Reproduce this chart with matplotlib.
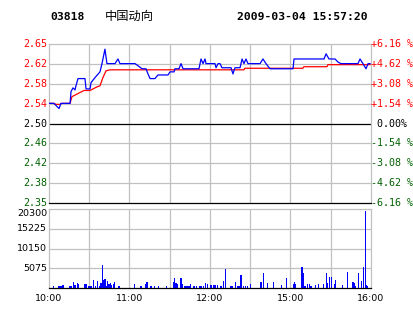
import matplotlib.pyplot as plt
from matplotlib.transforms import blended_transform_factory

# header
code = '03818'
name = '中国动向'
stamp = '2009-03-04 15:57:20'

# price scale: previous close and percentage levels
prev_close = 2.50
pct_levels = [-6.16, -4.62, -3.08, -1.54, 0.0, 1.54, 3.08, 4.62, 6.16]
price_labels = ['2.35', '2.38', '2.42', '2.46', '2.50', '2.54', '2.58', '2.62', '2.65']
pct_labels = ['-6.16 %', '-4.62 %', '-3.08 %', '-1.54 %', ' 0.00%',
              '+1.54 %', '+3.08 %', '+4.62 %', '+6.16 %']

# time axis in trading minutes from 10:00 (lunch break removed)
time_ticks = [0, 60, 120, 180, 240]
time_labels = ['10:00', '11:00', '12:00', '15:00', '16:00']

vol_ticks = [5075, 10150, 15225, 20300]
vol_max = 20300

# last price
price_t = [0, 3.7, 5.2, 7.5, 8.9, 15.7, 16.4, 17.9, 19.4, 20.1, 21.6, 26.8, 27.6, 30.6,
           31.3, 34.3, 38, 39.5, 41.7, 43.2, 49.2, 51.4, 52.9, 64.1, 66.3, 69.3, 72.3,
           73.8, 75.3, 79, 81.2, 88.7, 90.2, 93.2, 93.9, 96.9, 98.4, 99.9, 111.8, 113.3,
           114.8, 116.3, 117, 123.7, 124.5, 126, 127.5, 128.9, 135.7, 137.1, 138.6, 142.4,
           143.9, 145.3, 146.8, 148.3, 157.3, 159.5, 161.7, 164.7, 181.9, 182.6, 205,
           206.5, 208.7, 213.2, 215.4, 217.6, 230.3, 231.8, 234, 236.3, 237.8, 239.3]
price = [2.539, 2.539, 2.535, 2.529, 2.539, 2.539, 2.562, 2.569, 2.565, 2.573, 2.587,
         2.587, 2.567, 2.567, 2.579, 2.589, 2.600, 2.616, 2.644, 2.616, 2.616, 2.625,
         2.616, 2.616, 2.612, 2.606, 2.606, 2.596, 2.587, 2.587, 2.594, 2.594, 2.600,
         2.600, 2.606, 2.606, 2.616, 2.606, 2.606, 2.625, 2.616, 2.625, 2.616, 2.616,
         2.608, 2.616, 2.616, 2.608, 2.608, 2.596, 2.608, 2.608, 2.625, 2.616, 2.625,
         2.616, 2.616, 2.625, 2.616, 2.606, 2.606, 2.625, 2.625, 2.635, 2.625, 2.625,
         2.619, 2.616, 2.616, 2.625, 2.616, 2.606, 2.616, 2.616]

# average price
avg_t = [0, 3.7, 5.2, 8.2, 9.7, 15.7, 17.1, 18.6, 20.1, 23.1, 26.1, 30.6, 32.8, 35.8,
         38, 40.2, 42.5, 45.5, 145.3, 146, 189.2, 190, 207.2, 207.9, 239.3]
avg = [2.539, 2.539, 2.537, 2.537, 2.539, 2.539, 2.552, 2.554, 2.556, 2.560, 2.564,
       2.564, 2.567, 2.571, 2.573, 2.589, 2.602, 2.604, 2.604, 2.607, 2.607, 2.610,
       2.610, 2.614, 2.614]

# volume
vol_t = [0, 3.2, 7.5, 8.9, 10.4, 15.7, 16.9, 18.1, 19.4, 21.1, 21.8, 26.8, 28.1, 29.8,
         31.3, 33, 34.8, 36, 38, 38.8, 39.7, 40.5, 41.7, 43, 43.8, 44.7, 45.7, 46.7,
         47.9, 49, 51.6, 52.4, 63.6, 68.6, 72.3, 73, 76, 78.5, 81.5, 87.7, 92.6, 93.4,
         94.7, 95.9, 98.4, 99.3, 101.4, 102.9, 104.3, 105.6, 108.1, 110.1, 112, 113.3,
         115, 116.8, 118, 120.7, 122.5, 123.7, 125.7, 128.2, 129.9, 131.4, 135.6, 136.9,
         138.8, 140.6, 141.6, 143.1, 144.8, 146.6, 147.8, 150, 158, 159.7, 162.7, 167.2,
         173.1, 176.9, 182.1, 182.8, 183.6, 188.6, 189.3, 190.8, 192.5, 194, 195.3,
         198.5, 200.7, 204.4, 206.7, 207.4, 208.9, 210.4, 212.6, 213.7, 218.6, 222.3,
         226.6, 227.5, 228.3, 230.5, 232.8, 234.2, 235.7, 236.5, 237.2]
vol = [590, 590, 590, 590, 850, 590, 590, 1450, 680, 1190, 930, 930, 930, 590,
       590, 1960, 590, 1700, 590, 1280, 5800, 2140, 2400, 590, 1700, 1020, 1190, 680,
       1020, 1450, 590, 590, 1110, 590, 1020, 1620, 590, 590, 590, 590, 1620, 2650,
       1280, 1020, 2650, 1020, 590, 590, 590, 1110, 590, 590, 590, 590,
       590, 1190, 1020, 850, 850, 760, 850, 590, 1880, 4960, 590, 590,
       1450, 590, 590, 3420, 590, 590, 590, 1110, 1620, 3930, 1190, 1530,
       760, 2650, 1110, 1530, 1020, 5480, 3760, 590, 1110, 1110, 590,
       850, 1110, 1020, 3930, 1360, 2730, 2900, 1110, 1960, 850, 4190,
       1620, 1280, 590, 3930, 1880, 5480, 19800, 760, 590]

RED = '#ff0000'
GREEN = '#006000'
GRID = '#c0c0c0'
W, H = 414, 314

fig = plt.figure(figsize=(W / 100, H / 100), dpi=100)
fig.patch.set_facecolor('white')

ax = fig.add_axes([49 / W, 1 - 203 / H, 322 / W, 159 / H])
axv = fig.add_axes([49 / W, 1 - 288 / H, 322 / W, 79 / H])

levels = [prev_close * (1 + p / 100) for p in pct_levels]

for a in (ax, axv):
    a.set_xlim(0, 240)
    a.set_xticks([])
    a.set_yticks([])
    for s in a.spines.values():
        s.set_color(GRID)
        s.set_linewidth(0.9)
    for t in range(30, 240, 30):
        a.axvline(t, color=GRID, lw=0.9, zorder=0)

ax.set_ylim(levels[0], levels[-1])
for lv, p in zip(levels[1:-1], pct_levels[1:-1]):
    if p == 0:
        ax.axhline(lv, color='black', lw=0.9, zorder=1)
    else:
        ax.axhline(lv, color=GRID, lw=0.9, zorder=0)
ax.spines['bottom'].set_color('black')

ax.plot(avg_t, avg, color=RED, lw=0.9, zorder=2)
ax.plot(price_t, price, color='#0000ff', lw=0.9, zorder=3)

mono = 'DejaVu Sans Mono'
tr = blended_transform_factory(ax.transAxes, ax.transData)
for lv, p, pl, cl in zip(levels, pct_levels, price_labels, pct_labels):
    c = RED if p > 0 else (GREEN if p < 0 else 'black')
    ax.text(-2 / 322, lv, pl, transform=tr, ha='right', va='center',
            family=mono, fontsize=7.2, color=c)
    ax.text(1.0, lv, cl, transform=tr, ha='left', va='center',
            family=mono, fontsize=7.2, color=c)

# volume panel
axv.set_ylim(0, vol_max)
for v in vol_ticks[:-1]:
    axv.axhline(v, color=GRID, lw=0.9, zorder=0)
axv.spines['bottom'].set_color('black')
axv.bar(vol_t, vol, width=1.0, color='#0000ff', linewidth=0,
        antialiased=False, zorder=2)

trv = blended_transform_factory(axv.transAxes, axv.transData)
for v in vol_ticks:
    axv.text(-2 / 322, v, str(v), transform=trv, ha='right',
             va='top' if v == vol_max else 'center', fontsize=6.8, color='black')

axv.set_xticks(time_ticks)
axv.set_xticklabels(time_labels, fontsize=6.8)
axv.tick_params(axis='x', length=0, pad=4.5)

fig.text(50 / W, 1 - 17 / H, code, family=mono, fontweight='bold',
         fontsize=8.2, va='center', ha='left')
fig.text(105 / W, 1 - 16 / H, name, family=['Noto Sans CJK SC', 'DejaVu Sans'],
         fontsize=8.8, va='center', ha='left')
fig.text(237 / W, 1 - 17 / H, stamp, family=mono, fontweight='bold',
         fontsize=8.2, va='center', ha='left')

fig.savefig('out.png', dpi=100)
